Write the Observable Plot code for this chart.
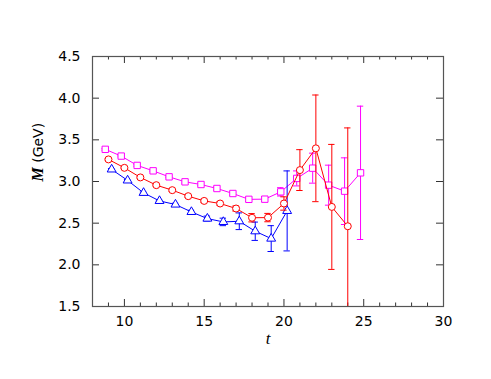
<!DOCTYPE html>
<html>
<head>
<meta charset="utf-8">
<script src="https://cdn.jsdelivr.net/npm/d3@7"></script>
<script src="https://cdn.jsdelivr.net/npm/@observablehq/plot@0.6"></script>
<style>
  html, body { margin: 0; padding: 0; background: #fff; }
</style>
</head>
<body>
<div id="chart"></div>
<script>
// ---- data ----
const tMagenta = [9,10,11,12,13,14,15,16,17,18,19,20,21,22,23,24,25];
const mMagenta = [3.386,3.305,3.193,3.128,3.056,2.996,2.964,2.916,2.856,2.786,2.788,2.876,3.037,3.160,2.956,2.884,3.104];
const eMagenta = [0.01,0.01,0.01,0.01,0.01,0.015,0.015,0.02,0.02,0.025,0.03,0.05,0.09,0.18,0.24,0.40,0.80];

const tRed = [9,10,11,12,13,14,15,16,17,18,19,20,21,22,23,24];
const mRed = [3.265,3.164,3.049,2.956,2.896,2.824,2.767,2.736,2.676,2.565,2.567,2.736,3.137,3.398,2.695,2.463];
const eRed = [0.01,0.01,0.01,0.01,0.015,0.015,0.02,0.02,0.03,0.05,0.05,0.08,0.245,0.64,0.75,1.18];

const tBlue = [9,10,11,12,13,14,15,16,17,18,19,20];
const mBlue = [3.145,3.013,2.864,2.767,2.724,2.635,2.555,2.515,2.523,2.403,2.315,2.647];
const eBlue = [0.01,0.01,0.01,0.01,0.015,0.02,0.03,0.045,0.10,0.11,0.155,0.48];

const xMajor = [10,15,20,25,30];
const xMinor = [9,11,12,13,14,16,17,18,19,21,22,23,24,26,27,28,29];
const yMajor = [1.5,2.0,2.5,3.0,3.5,4.0,4.5];
const xLabel = "t";
const yLabel = "M (GeV)";

// ---- build tables ----
const mk = (ts, ms, es) => ts.map((t, i) => ({t, m: ms[i], e: es[i]}));
const magenta = mk(tMagenta, mMagenta, eMagenta);
const red = mk(tRed, mRed, eRed);
const blue = mk(tBlue, mBlue, eBlue);

const W = 491, H = 379;
const mL = 92, mR = 48, mT = 56, mB = 73;
const plotH = H - mT - mB, plotW = W - mL - mR;
const YMIN = 1.5, YMAX = 4.5;
const majorLen = 7, minorLen = 3.5;
const capHalf = 0.2;

function series(data, color, symbol, off, r) {
  const X = d => d.t + off;
  const lo = d => Math.max(YMIN, d.m - d.e);
  const hi = d => Math.min(YMAX, d.m + d.e);
  return [
    Plot.line(data, {x: X, y: "m", stroke: color, strokeWidth: 1}),
    Plot.ruleX(data, {x: X, y1: lo, y2: hi, stroke: color, strokeWidth: 1}),
    Plot.ruleY(data, {y: lo, x1: d => X(d) - capHalf, x2: d => X(d) + capHalf, stroke: color, strokeWidth: 1}),
    Plot.ruleY(data.filter(d => d.m + d.e <= YMAX), {y: hi, x1: d => X(d) - capHalf, x2: d => X(d) + capHalf, stroke: color, strokeWidth: 1}),
    Plot.dot(data, {x: X, y: "m", symbol, r, stroke: color, fill: "white", strokeWidth: 1})
  ];
}

const chart = Plot.plot({
  width: W, height: H,
  marginLeft: mL, marginRight: mR, marginTop: mT, marginBottom: mB,
  style: {fontFamily: "'DejaVu Sans', Verdana, sans-serif", fontSize: "14px", background: "white", color: "black"},
  x: {domain: [8, 30]},
  y: {domain: [YMIN, YMAX]},
  marks: [
    // inward tick marks on all four sides
    Plot.tickX(xMajor, {x: d => d, insetTop: plotH - majorLen, stroke: "#333"}),
    Plot.tickX(xMajor, {x: d => d, insetBottom: plotH - majorLen, stroke: "#333"}),
    Plot.tickX(xMinor, {x: d => d, insetTop: plotH - minorLen, stroke: "#333"}),
    Plot.tickX(xMinor, {x: d => d, insetBottom: plotH - minorLen, stroke: "#333"}),
    Plot.tickY(yMajor, {y: d => d, insetRight: plotW - majorLen, stroke: "#333"}),
    Plot.tickY(yMajor, {y: d => d, insetLeft: plotW - majorLen, stroke: "#333"}),
    ...series(magenta, "#ff00ff", "square", -0.2, 3.6),
    ...series(blue, "#0000ff", "triangle", 0.2, 3.3),
    ...series(red, "#ff0000", "circle", 0, 3.5),
    Plot.frame({stroke: "#555", strokeWidth: 1.2}),
    Plot.axisX({ticks: xMajor, tickSize: 0, tickPadding: 10, label: null, fontSize: 14}),
    Plot.axisY({ticks: yMajor, tickSize: 0, tickPadding: 12, tickFormat: d3.format(".1f"), label: null, fontSize: 14}),
    Plot.text([xLabel], {frameAnchor: "bottom", lineAnchor: "top", dy: 25, text: d => d, fontSize: 17, fontStyle: "italic", fontFamily: "'Liberation Serif', 'DejaVu Serif', serif"}),
    Plot.text([yLabel], {frameAnchor: "left", rotate: -90, dx: -54, text: d => d, fontSize: 14})
  ]
});

// italic math symbol inside the y label
d3.select(chart).selectAll("text").filter(function() { return this.textContent === yLabel; })
  .each(function() {
    const sel = d3.select(this);
    sel.text(null);
    sel.append("tspan").attr("font-style", "italic").attr("font-weight", "bold")
      .attr("font-family", "'Liberation Serif', 'DejaVu Serif', serif").attr("font-size", 16).text(yLabel.split(" ")[0]);
    sel.append("tspan").text("\u00a0" + yLabel.split(" ").slice(1).join(" "));
  });

document.getElementById("chart").appendChild(chart);
</script>
</body>
</html>
